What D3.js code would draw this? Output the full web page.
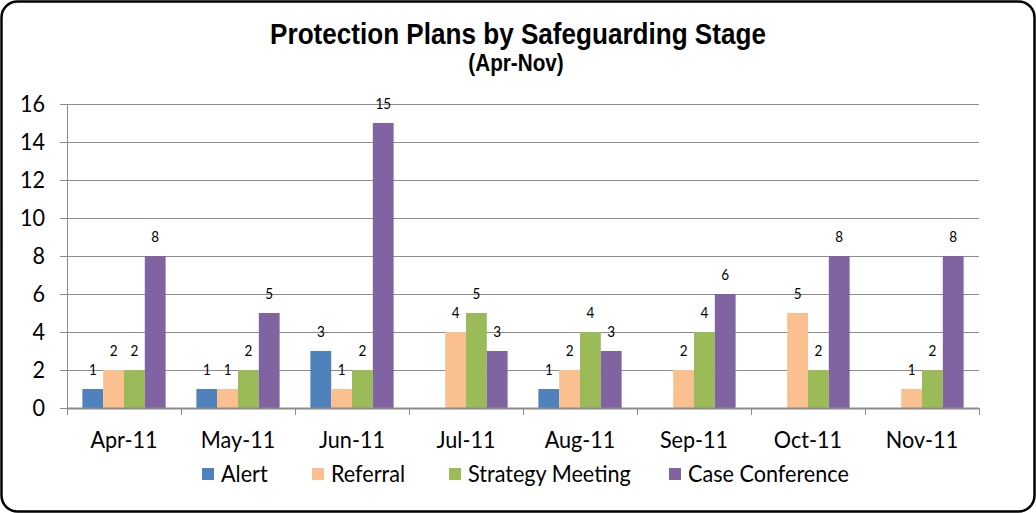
<!DOCTYPE html>
<html>
<head>
<meta charset="utf-8">
<script src="https://cdn.jsdelivr.net/npm/d3@7"></script>
<style>
  body { margin: 0; background: #fff; }
  text { font-family: Lato, "Open Sans", sans-serif; fill: #000; }
  .title { font-family: "Liberation Sans", Arial, sans-serif; font-weight: bold; }
</style>
</head>
<body>
<div id="chart"></div>
<script>
// chart data
var months = ["Apr-11", "May-11", "Jun-11", "Jul-11", "Aug-11", "Sep-11", "Oct-11", "Nov-11"];
var seriesNames = ["Alert", "Referral", "Strategy Meeting", "Case Conference"];
var alertVals = [1, 1, 3, 0, 1, 0, 0, 0];
var referralVals = [2, 1, 1, 4, 2, 2, 5, 1];
var strategyVals = [2, 2, 2, 5, 4, 4, 2, 2];
var conferenceVals = [8, 5, 15, 3, 3, 6, 8, 8];
var yTicks = [0, 2, 4, 6, 8, 10, 12, 14, 16];

var colors = ["#4F81BD", "#FAC090", "#9BBB59", "#8064A2"];
var allVals = [alertVals, referralVals, strategyVals, conferenceVals];

var svgWidth = 1036;
var svgHeight = 513;
var margin = { top: 104, right: 57, bottom: 105, left: 67 };
var width = svgWidth - margin.left - margin.right;
var height = svgHeight - margin.top - margin.bottom;

// text in the original is a bit narrow, squeeze it horizontally
var squeeze = 0.9;
function place(x, y) {
  return `translate(${x}, ${y}) scale(${squeeze}, 1)`;
}

var svg = d3.select("#chart")
  .append("svg")
  .attr("width", svgWidth)
  .attr("height", svgHeight);

// outer frame
svg.append("rect")
  .attr("x", 1.5).attr("y", 1.5)
  .attr("width", svgWidth - 3).attr("height", svgHeight - 3)
  .attr("rx", 16).attr("ry", 16)
  .attr("fill", "#fff")
  .attr("stroke", "#000")
  .attr("stroke-width", 2.5);

// titles
svg.append("text")
  .attr("class", "title")
  .attr("transform", place(518, 44))
  .attr("text-anchor", "middle")
  .style("font-size", "29px")
  .text("Protection Plans by Safeguarding Stage");

svg.append("text")
  .attr("class", "title")
  .attr("transform", place(516, 71))
  .attr("text-anchor", "middle")
  .style("font-size", "23px")
  .text("(Apr-Nov)");

var chartGroup = svg.append("g")
  .attr("transform", `translate(${margin.left}, ${margin.top})`);

var x0 = d3.scaleBand()
  .domain(months)
  .range([0, width])
  .paddingInner(0.27)
  .paddingOuter(0.135);

var x1 = d3.scaleBand()
  .domain(seriesNames)
  .range([0, x0.bandwidth()]);

var y = d3.scaleLinear()
  .domain([0, 16])
  .range([height, 0]);

// gridlines
chartGroup.append("g")
  .selectAll("line")
  .data(yTicks)
  .enter()
  .append("line")
  .attr("x1", -7)
  .attr("x2", width)
  .attr("y1", d => Math.round(y(d)) + 0.5)
  .attr("y2", d => Math.round(y(d)) + 0.5)
  .attr("stroke", "#8c8c8c")
  .attr("stroke-width", 1);

// y axis labels
chartGroup.append("g")
  .selectAll("text")
  .data(yTicks)
  .enter()
  .append("text")
  .attr("transform", d => place(-22, y(d)))
  .attr("dy", "0.35em")
  .attr("text-anchor", "end")
  .style("font-size", "24px")
  .text(d => d);

// y axis line
chartGroup.append("line")
  .attr("x1", 0.5).attr("x2", 0.5)
  .attr("y1", 0).attr("y2", height)
  .attr("stroke", "#8c8c8c");

// bars
var groups = chartGroup.selectAll(".month")
  .data(months)
  .enter()
  .append("g")
  .attr("class", "month")
  .attr("transform", d => `translate(${x0(d)}, 0)`);

groups.selectAll("rect")
  .data((m, i) => seriesNames.map((s, j) => ({ series: s, value: allVals[j][i], color: colors[j] })))
  .enter()
  .append("rect")
  .attr("x", d => x1(d.series))
  .attr("y", d => y(d.value))
  .attr("width", x1.bandwidth())
  .attr("height", d => height - y(d.value))
  .attr("fill", d => d.color);

// data labels (zeros are not labelled)
groups.selectAll("text")
  .data((m, i) => seriesNames.map((s, j) => ({ series: s, value: allVals[j][i] })).filter(d => d.value > 0))
  .enter()
  .append("text")
  .attr("transform", d => place(x1(d.series) + x1.bandwidth() / 2, y(d.value) - 14))
  .attr("text-anchor", "middle")
  .style("font-size", "15px")
  .text(d => d.value);

// x axis line and ticks
chartGroup.append("line")
  .attr("x1", 0).attr("x2", width)
  .attr("y1", height + 0.5).attr("y2", height + 0.5)
  .attr("stroke", "#8c8c8c")
  .attr("stroke-width", 2);

var step = width / months.length;
chartGroup.append("g")
  .selectAll("line")
  .data(d3.range(months.length + 1))
  .enter()
  .append("line")
  .attr("x1", d => Math.round(d * step) + 0.5)
  .attr("x2", d => Math.round(d * step) + 0.5)
  .attr("y1", height)
  .attr("y2", height + 7)
  .attr("stroke", "#8c8c8c");

// x labels
chartGroup.append("g")
  .selectAll("text")
  .data(months)
  .enter()
  .append("text")
  .attr("transform", d => place(x0(d) + x0.bandwidth() / 2, height + 40))
  .attr("text-anchor", "middle")
  .style("font-size", "24px")
  .text(d => d);

// legend
var legend = svg.append("g")
  .attr("transform", "translate(0, 474)");

var legendX = [202, 312, 449, 669];
var items = legend.selectAll("g")
  .data(seriesNames)
  .enter()
  .append("g")
  .attr("transform", (d, i) => `translate(${legendX[i]}, 0)`);

items.append("rect")
  .attr("x", 0).attr("y", -6)
  .attr("width", 12).attr("height", 12)
  .attr("fill", (d, i) => colors[i]);

items.append("text")
  .attr("transform", place(19, 0))
  .attr("dy", "0.35em")
  .style("font-size", "24px")
  .text(d => d);
</script>
</body>
</html>
